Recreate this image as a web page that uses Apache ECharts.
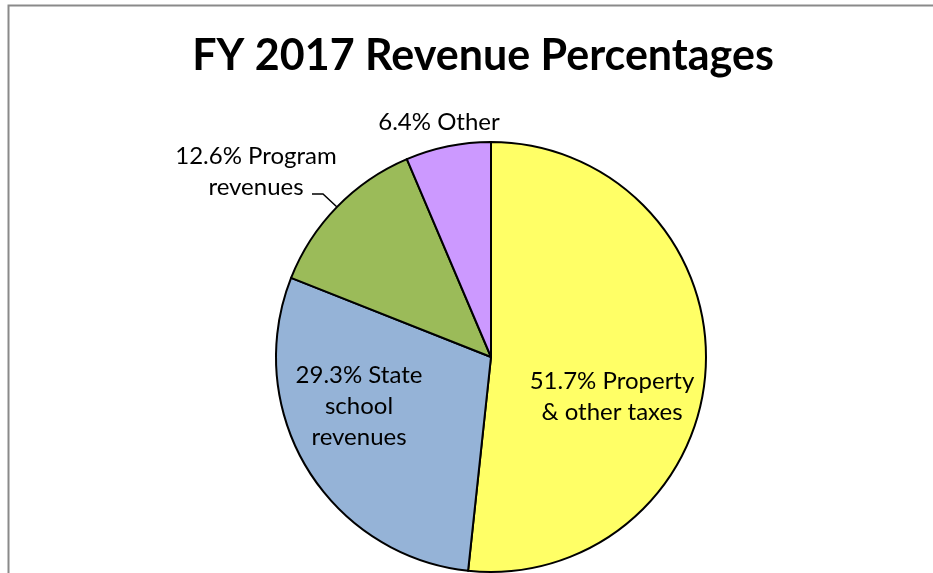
<!DOCTYPE html>
<html>
<head>
<meta charset="utf-8">
<script src="https://cdn.jsdelivr.net/npm/echarts@6/dist/echarts.min.js"></script>
<style>
  html, body { margin: 0; padding: 0; background: #fff; }
  #chart { width: 933px; height: 573px; }
</style>
</head>
<body>
<div id="chart"></div>
<script>
// revenue sources, clockwise from 12 o'clock
const categories = ['Property\n& other taxes', 'State\nschool\nrevenues', 'Program\nrevenues', 'Other']
const percents = [51.7, 29.3, 12.6, 6.4]
const colors = ['#FFFF66', '#95B3D7', '#9BBB59', '#CC99FF']

const FONT = 'Lato'
const CX = 491, CY = 357, R = 215

// where each label sits (center of text block)
const labelSpots = [
  { x: 612, y: 397 },
  { x: 359, y: 406 },
  { x: 256, y: 172 },
  { x: 439, y: 122 }
]

var chart = echarts.init(document.getElementById('chart'), null, { renderer: 'canvas' })

chart.setOption({
  backgroundColor: '#fff',
  animation: false,
  title: {
    text: 'FY 2017 Revenue Percentages',
    left: 478,
    top: 30,
    textAlign: 'center',
    textStyle: { fontFamily: FONT, fontWeight: 'bold', fontSize: 43, color: '#000' }
  },
  graphic: [{
    type: 'polyline',
    shape: { points: [[8.5, 600], [8.5, 5.5], [940, 5.5]] },
    style: { stroke: '#8a8a8a', lineWidth: 2, fill: null },
    silent: true
  }],
  series: [{
    type: 'pie',
    center: [CX, CY],
    radius: R,
    startAngle: 90,
    clockwise: true,
    avoidLabelOverlap: false,
    itemStyle: { borderColor: '#000', borderWidth: 2 },
    label: {
      show: true,
      position: 'outside',
      fontFamily: FONT,
      fontSize: 24,
      lineHeight: 31,
      color: '#000',
      align: 'center',
      formatter: p => p.value.toFixed(1) + '% ' + p.name
    },
    labelLine: { show: true, lineStyle: { color: '#000', width: 1.5 } },
    labelLayout: function (params) {
      const i = params.dataIndex
      const spot = labelSpots[i]
      const out = { x: spot.x, y: spot.y, align: 'center', verticalAlign: 'middle' }
      if (i === 2) {
        out.labelLinePoints = [[312, 194], [323, 194], [337, 207]]
      } else {
        out.labelLinePoints = [[0, 0], [0, 0], [0, 0]]
      }
      return out
    },
    data: categories.map((name, i) => ({
      name: name,
      value: percents[i],
      itemStyle: { color: colors[i] },
      labelLine: { show: i === 2 }
    }))
  }]
})
</script>
</body>
</html>
